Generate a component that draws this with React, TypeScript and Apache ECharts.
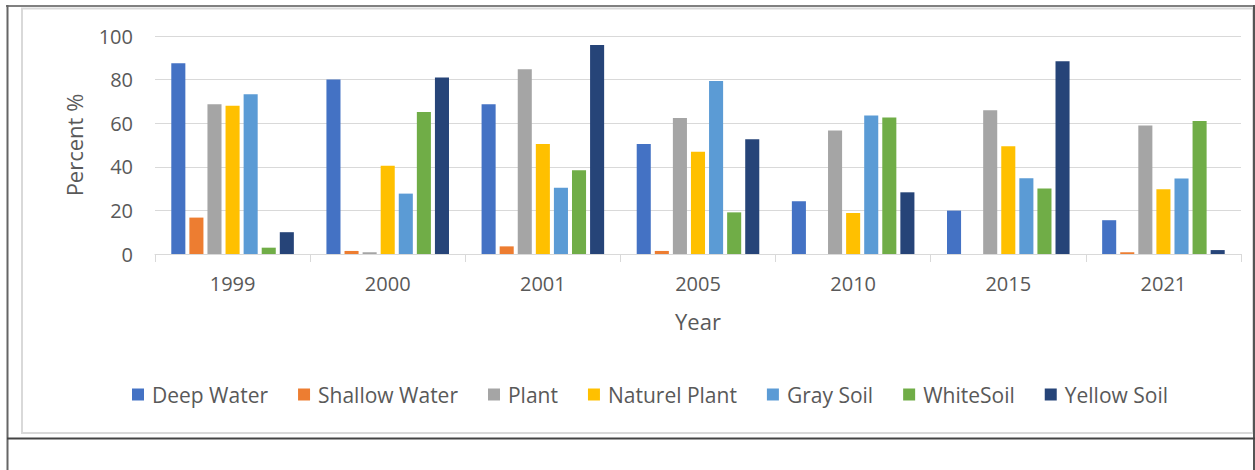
import React, { useEffect, useRef } from "react";
import * as echarts from "echarts";

const years = ["1999", "2000", "2001", "2005", "2010", "2015", "2021"];
const seriesNames = ["Deep Water", "Shallow Water", "Plant", "Naturel Plant", "Gray Soil", "WhiteSoil", "Yellow Soil"];
const deepWater = [87.5, 80.1, 68.7, 50.5, 24.2, 19.9, 15.5];
const shallowWater = [16.7, 1.4, 3.5, 1.4, 0, 0, 0.8];
const plant = [68.7, 0.8, 84.7, 62.4, 56.6, 65.9, 58.9];
const naturelPlant = [68.0, 40.5, 50.5, 46.9, 18.8, 49.4, 29.7];
const graySoil = [73.3, 27.7, 30.4, 79.4, 63.5, 34.7, 34.6];
const whiteSoil = [2.9, 65.1, 38.4, 19.1, 62.6, 30.0, 61.0];
const yellowSoil = [10.0, 81.0, 95.9, 52.6, 28.3, 88.4, 1.8];
const colors = ["#4472C4", "#ED7D31", "#A5A5A5", "#FFC000", "#5B9BD5", "#70AD47", "#264478"];
const yTicks = { min: 0, max: 100, interval: 20 };

const FONT = "'Open Sans', sans-serif";
const TXT = "#595959";

export default function App() {
  const ref = useRef<HTMLDivElement>(null);
  useEffect(() => {
    document.body.style.margin = "0";
    const chart = echarts.init(ref.current!, undefined, { renderer: "svg" });
    const allData = [deepWater, shallowWater, plant, naturelPlant, graySoil, whiteSoil, yellowSoil];
    chart.setOption({
      animation: false,
      backgroundColor: "#ffffff",
      textStyle: { fontFamily: FONT },
      grid: { left: 155, right: 14, top: 36, bottom: 216 },
      legend: {
        left: 132,
        top: 384,
        padding: 0,
        itemWidth: 12,
        itemHeight: 12,
        itemGap: 30,
        icon: "rect",
        textStyle: { fontFamily: FONT, fontSize: 21, color: TXT, padding: [0, 0, 0, 3] },
        data: seriesNames,
      },
      xAxis: {
        type: "category",
        data: years,
        name: "Year",
        nameLocation: "middle",
        nameGap: 56,
        nameTextStyle: { fontFamily: FONT, fontSize: 22, color: TXT },
        axisLine: { lineStyle: { color: "#D9D9D9", width: 1 } },
        axisTick: { show: true, length: 8, lineStyle: { color: "#D9D9D9" } },
        axisLabel: { fontFamily: FONT, fontSize: 20, color: TXT, margin: 19 },
      },
      yAxis: {
        type: "value",
        min: yTicks.min,
        max: yTicks.max,
        interval: yTicks.interval,
        name: "Percent %",
        nameLocation: "middle",
        nameGap: 70,
        nameTextStyle: { fontFamily: FONT, fontSize: 22, color: TXT },
        axisLine: { show: false },
        axisTick: { show: false },
        axisLabel: { fontFamily: FONT, fontSize: 20, color: TXT, margin: 22 },
        splitLine: { lineStyle: { color: "#D9D9D9", width: 1 } },
      },
      series: seriesNames.map((name, i) => ({
        name,
        type: "bar",
        data: allData[i],
        barCategoryGap: "21%",
        barGap: "28.6%",
        itemStyle: { color: colors[i] },
      })),
      graphic: [
        { type: "rect", silent: true, shape: { x: 22, y: 8.5, width: 1231, height: 424.5 }, style: { fill: "none", stroke: "#D9D9D9", lineWidth: 2 } },
        { type: "line", silent: true, shape: { x1: 6, y1: 6, x2: 1255, y2: 6 }, style: { stroke: "#808080", lineWidth: 2 } },
        { type: "line", silent: true, shape: { x1: 7.5, y1: 5, x2: 7.5, y2: 470 }, style: { stroke: "#666666", lineWidth: 2 } },
        { type: "line", silent: true, shape: { x1: 1254, y1: 5, x2: 1254, y2: 470 }, style: { stroke: "#555555", lineWidth: 2 } },
        { type: "line", silent: true, shape: { x1: 7, y1: 438.5, x2: 1255, y2: 438.5 }, style: { stroke: "#444444", lineWidth: 2 } },
      ],
    });
    return () => chart.dispose();
  }, []);
  return <div ref={ref} style={{ width: 1255, height: 470 }} />;
}
